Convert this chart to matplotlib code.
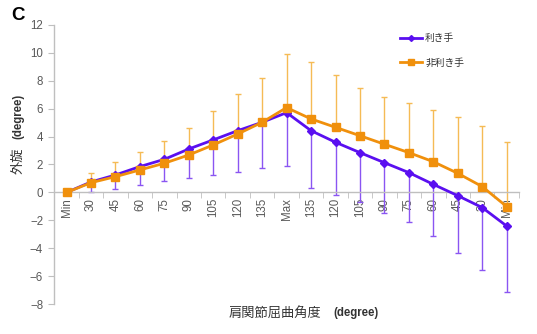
import numpy as np
import matplotlib.pyplot as plt
from matplotlib.lines import Line2D

plt.rcParams['font.family'] = ['Liberation Sans', 'Noto Sans CJK JP']

categories = ['Min', '30', '45', '60', '75', '90', '105', '120', '135', 'Max',
              '135', '120', '105', '90', '75', '60', '45', '30', 'Min']

# dominant hand (利き手)
dom_mean = [0.0, 0.75, 1.25, 1.85, 2.37, 3.11, 3.76, 4.42, 5.02, 5.71,
            4.42, 3.59, 2.85, 2.13, 1.42, 0.58, -0.23, -1.08, -2.40]
dom_sd = [0.0, 0.69, 1.02, 1.29, 1.52, 2.05, 2.51, 2.98, 3.24, 3.81,
          4.12, 3.77, 3.51, 3.62, 3.55, 3.69, 4.07, 4.46, 4.70]

# non-dominant hand (非利き手)
non_mean = [0.0, 0.70, 1.13, 1.61, 2.09, 2.68, 3.40, 4.18, 5.02, 6.07,
            5.26, 4.66, 4.06, 3.45, 2.85, 2.20, 1.37, 0.42, -1.01]
non_sd = [0.0, 0.72, 1.03, 1.29, 1.61, 1.96, 2.40, 2.84, 3.15, 3.81,
          4.10, 3.74, 3.39, 3.36, 3.53, 3.70, 4.05, 4.36, 4.64]

purple = '#5a0ff0'
purple_err = '#8a55f2'
orange = '#f0900c'
orange_err = '#f5bb55'
grey = '#595959'
axis_grey = '#bfbfbf'

x = np.arange(len(categories))

fig = plt.figure(figsize=(5.37, 3.34), dpi=100)
ax = fig.add_axes([54.3 / 537, 1 - 304.3 / 334, (518.9 - 54.3) / 537, (304.3 - 24.7) / 334])

# one-sided error bars: downward for dominant, upward for non-dominant
ax.errorbar(x, dom_mean, yerr=[dom_sd, np.zeros(len(x))], fmt='none',
            ecolor=purple_err, elinewidth=1.0, capsize=2, capthick=1.0, zorder=2)
ax.errorbar(x, non_mean, yerr=[np.zeros(len(x)), non_sd], fmt='none',
            ecolor=orange_err, elinewidth=1.0, capsize=2, capthick=1.0, zorder=2)

ax.plot(x, dom_mean, color=purple, lw=2.0, marker='D', ms=3.8, zorder=3)
ax.plot(x, non_mean, color=orange, lw=2.0, marker='s', ms=5.5, zorder=4)

ax.set_xlim(-0.5, len(x) - 0.5)
ax.set_ylim(-8, 12)
ax.set_yticks(np.arange(-8, 13, 2))

ax.spines['top'].set_visible(False)
ax.spines['right'].set_visible(False)
ax.spines['bottom'].set_position(('data', 0))
for s in ('left', 'bottom'):
    ax.spines[s].set_color(axis_grey)
    ax.spines[s].set_linewidth(1.0)

ax.set_xticks(x)
ax.set_xticklabels(categories, rotation=90, va='top')
ax.set_xticks(np.arange(-0.5, len(x), 1.0), minor=True)
ax.tick_params(axis='x', which='major', length=0, pad=4, labelsize=8.3, labelcolor=grey)
ax.tick_params(axis='x', which='minor', length=4, color=axis_grey, direction='out')
ax.tick_params(axis='y', length=4, color=axis_grey, labelsize=8.3, labelcolor=grey, pad=4)

# legend
handles = [Line2D([], [], color=purple, lw=2.0, marker='D', ms=3),
           Line2D([], [], color=orange, lw=2.0, marker='s', ms=4)]
leg = ax.legend(handles, ['利き手', '非利き手'], loc='upper left',
                bbox_to_anchor=(0.725, 1.0), frameon=False, fontsize=7,
                handlelength=2.3, handletextpad=0.3, labelspacing=1.45)
for t in leg.get_texts():
    t.set_color('#333333')

# axis titles
fig.text(18 / 537, 1 - 116 / 334, '(degree)', rotation=90, ha='center', va='center',
         fontsize=8.3, fontweight='bold', color='#333333')
fig.text(18 / 537, 1 - 161 / 334, '外旋', rotation=90, ha='center', va='center',
         fontsize=9.5, color='#333333', family='Noto Sans CJK JP')
fig.text(275 / 537, 1 - 313 / 334, '肩関節屈曲角度', ha='center', va='center',
         fontsize=9.5, color='#333333', family='Noto Sans CJK JP')
fig.text(356 / 537, 1 - 313 / 334, '(degree)', ha='center', va='center',
         fontsize=8.3, fontweight='bold', color='#333333')

fig.text(11 / 537, 1 - 16 / 334, 'C', ha='left', va='center',
         fontsize=13.5, fontweight='bold', color='black')

fig.savefig('out.png', dpi=100)
